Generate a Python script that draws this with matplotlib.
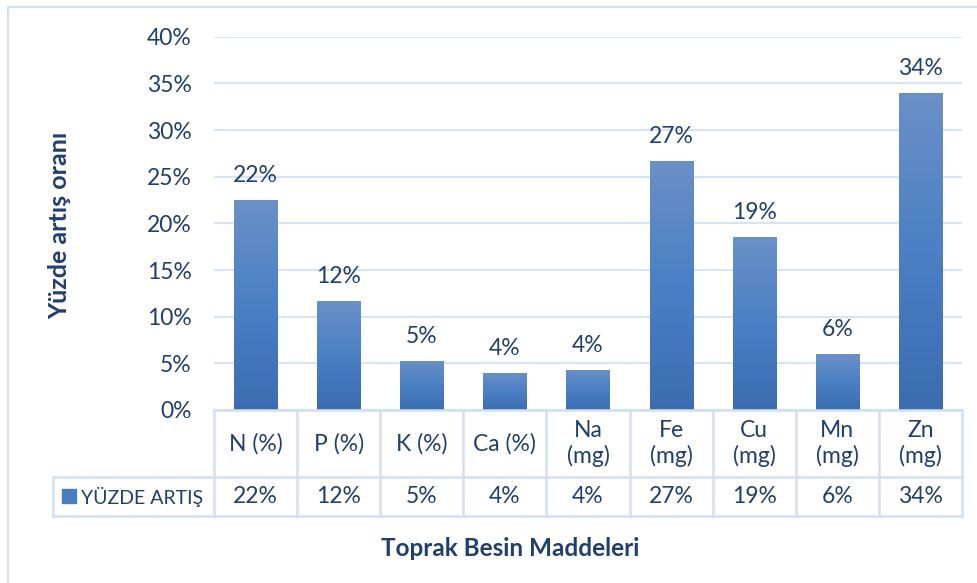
import matplotlib
matplotlib.use("Agg")
import matplotlib.pyplot as plt
import numpy as np
from matplotlib.colors import LinearSegmentedColormap
from matplotlib.lines import Line2D
from matplotlib.patches import Rectangle
from matplotlib.transforms import blended_transform_factory

categories = ["N (%)", "P (%)", "K (%)", "Ca (%)", "Na\n(mg)", "Fe\n(mg)", "Cu\n(mg)", "Mn\n(mg)", "Zn\n(mg)"]
values = [0.225, 0.117, 0.053, 0.040, 0.043, 0.267, 0.185, 0.060, 0.340]
labels = ["22%", "12%", "5%", "4%", "4%", "27%", "19%", "6%", "34%"]
series_name = "YÜZDE ARTIŞ"
y_ticks = [0, 0.05, 0.10, 0.15, 0.20, 0.25, 0.30, 0.35, 0.40]

plt.rcParams["font.family"] = ["Lato", "DejaVu Sans"]
text_col = "#203f6e"
grid_col = "#d9e4f2"
table_col = "#d2e0f1"
fs = 16.5

W, H = 978, 583
fig = plt.figure(figsize=(W / 100, H / 100), dpi=100)
ax = fig.add_axes([214 / W, 1 - 410 / H, (962 - 214) / W, (410 - 36.7) / H])

# outer chart border
fig.add_artist(Rectangle((8 / W, -0.05), 1.2, 1 - 7.5 / H + 0.05, transform=fig.transFigure,
                         fill=False, edgecolor=table_col, lw=1.5))

x = np.arange(len(categories))
bars = ax.bar(x, values, width=0.52, color="none", zorder=3)

# vertical gradient fill, clipped to each bar
cmap = LinearSegmentedColormap.from_list("grad", ["#3b6cb0", "#4a80c4", "#6b90c6"])
grad = np.linspace(0, 1, 256).reshape(-1, 1)
for b in bars:
    x0, w, h = b.get_x(), b.get_width(), b.get_height()
    im = ax.imshow(grad, cmap=cmap, aspect="auto", origin="lower",
                   extent=[x0, x0 + w, 0, h], zorder=3)
    im.set_clip_path(b)

for xi, v, lab in zip(x, values, labels):
    ax.annotate(lab, (xi, v), xytext=(0, 10), textcoords="offset points",
                ha="center", va="bottom", fontsize=fs, color=text_col)

ax.set_xlim(-0.5, len(categories) - 0.5)
ax.set_ylim(0, 0.40)
ax.set_yticks(y_ticks)
ax.set_yticklabels([f"{int(round(t * 100))}%" for t in y_ticks])
ax.tick_params(axis="y", length=0, pad=16, labelsize=fs, labelcolor=text_col)
ax.set_xticks([])
ax.grid(axis="y", color=grid_col, lw=1.6, zorder=0)
for s in ax.spines.values():
    s.set_visible(False)

fig.text(60 / W, 1 - 225 / H, "Yüzde artış oranı", rotation=90, ha="center", va="center",
         fontsize=18, fontweight="bold", color=text_col)
fig.text(510 / W, 1 - 548 / H, "Toprak Besin Maddeleri", ha="center", va="center",
         fontsize=17.5, fontweight="bold", color=text_col)

# data table under the axis
tr = blended_transform_factory(ax.transData, fig.transFigure)
y_top, y_mid, y_bot = 1 - 410 / H, 1 - 477 / H, 1 - 516 / H
left_fig = 53 / W
lw = 1.8
for xb in np.arange(-0.5, len(categories), 1.0):
    fig.add_artist(Line2D([xb, xb], [y_bot, y_top], transform=tr, color=table_col, lw=lw))
fig.add_artist(Line2D([-0.5, len(categories) - 0.5], [y_top, y_top], transform=tr, color=table_col, lw=lw))
for yy in (y_mid, y_bot):
    fig.add_artist(Line2D([left_fig, 962 / W], [yy, yy], transform=fig.transFigure, color=table_col, lw=lw))
fig.add_artist(Line2D([left_fig, left_fig], [y_bot, y_mid], transform=fig.transFigure, color=table_col, lw=lw))

for xi, cat, lab in zip(x, categories, labels):
    fig.text(xi, (y_top + y_mid) / 2, cat, transform=tr, ha="center", va="center",
             fontsize=fs, color=text_col, linespacing=1.2)
    fig.text(xi, (y_mid + y_bot) / 2, lab, transform=tr, ha="center", va="center",
             fontsize=fs, color=text_col)

fig.add_artist(Rectangle((62 / W, 1 - 503 / H), 14 / W, 14 / H, transform=fig.transFigure,
                         color="#4a7cc0"))
fig.text(81 / W, (y_mid + y_bot) / 2, series_name, ha="left", va="center",
         fontsize=14, color=text_col)

fig.savefig("out.png", dpi=100)
